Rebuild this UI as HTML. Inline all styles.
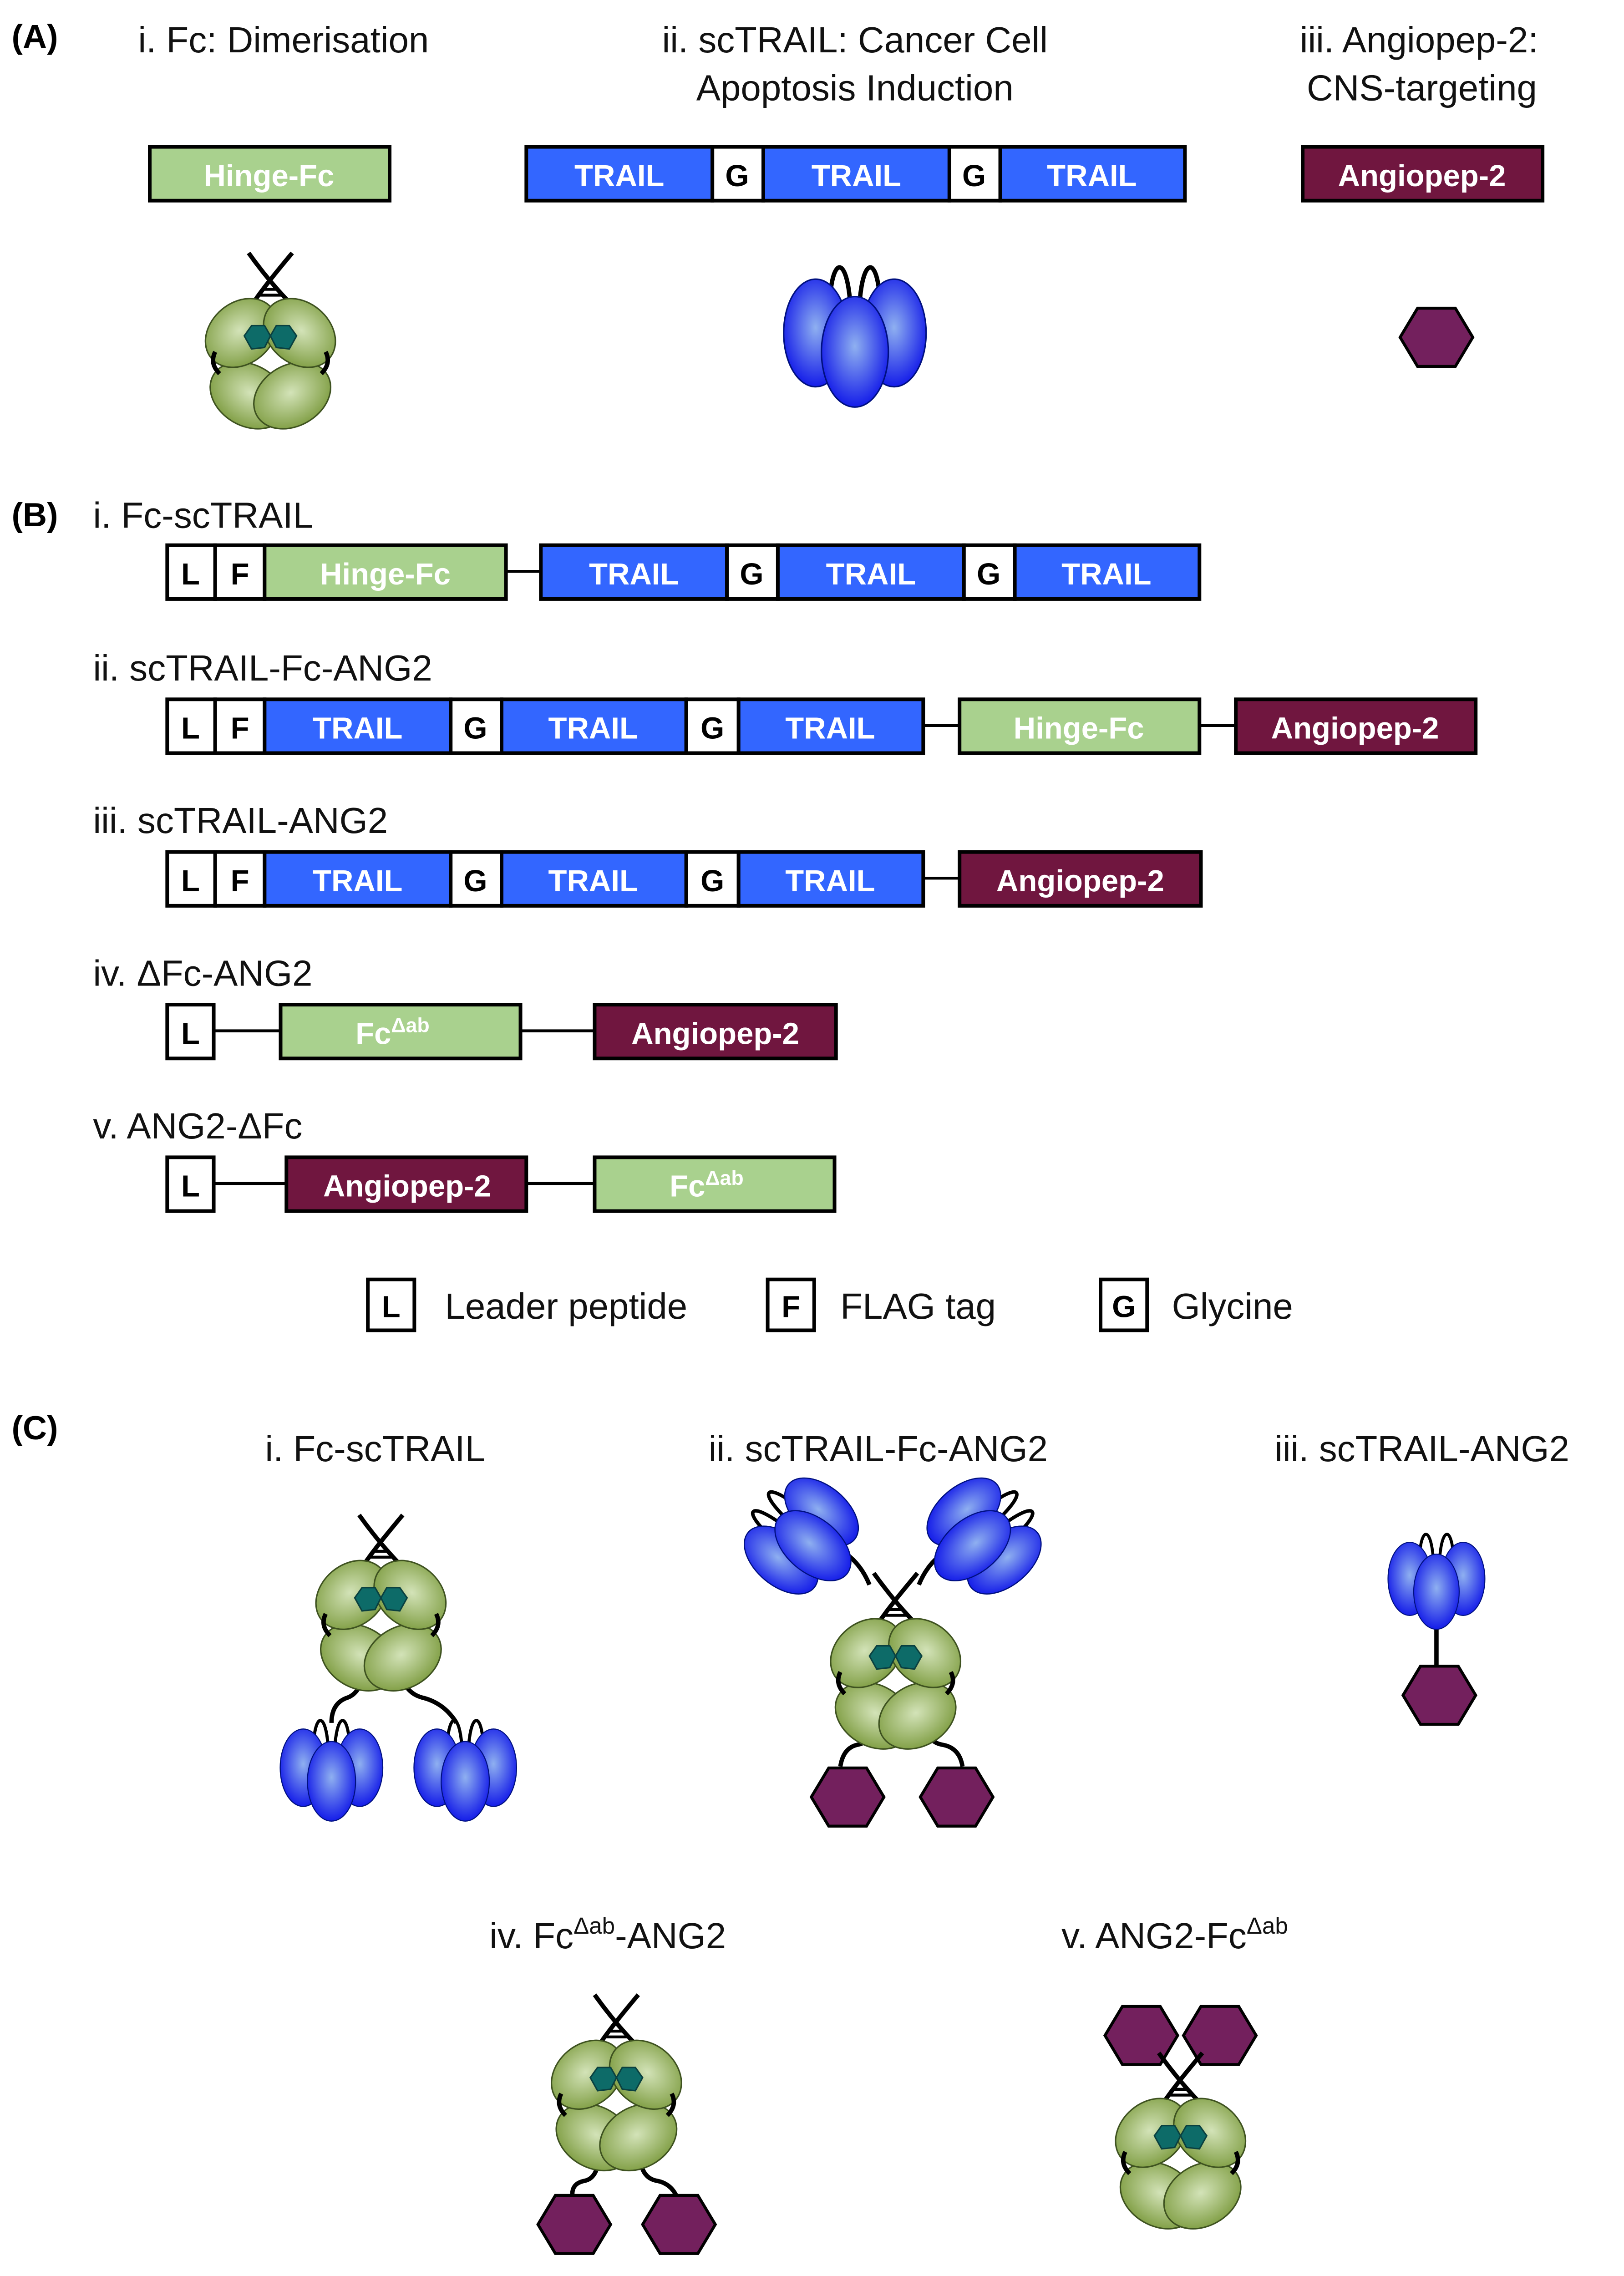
<!DOCTYPE html>
<html><head><meta charset="utf-8"><style>
html,body{margin:0;padding:0;background:#fff;width:3568px;height:5104px;overflow:hidden;}
svg{display:block;}
text{font-family:"Liberation Sans",Arial,sans-serif;}
.t{font-size:25px;fill:#111;}
.b{font-size:21px;font-weight:bold;fill:#fff;text-anchor:middle;}
.k{font-size:21px;font-weight:bold;fill:#000;text-anchor:middle;}
.lb{font-size:23px;font-weight:bold;fill:#000;}
</style></head><body>
<svg width="3568" height="5104" viewBox="0 0 1117 1598" preserveAspectRatio="none" xmlns="http://www.w3.org/2000/svg">
<defs>
<radialGradient id="gg" cx="50%" cy="45%" r="60%"><stop offset="0" stop-color="#d3e3b8"/><stop offset="1" stop-color="#7b9a3d"/></radialGradient>
<radialGradient id="bg" cx="50%" cy="45%" r="60%"><stop offset="0" stop-color="#8fb0f0"/><stop offset="1" stop-color="#0a10e8"/></radialGradient>
<g id="fc">
 <path d="M-15,-60 C-5,-46 5,-34 17,-22" stroke="#000" stroke-width="3" fill="none"/>
 <path d="M15,-60 C5,-48 -5,-36 -13,-24" stroke="#000" stroke-width="3" fill="none"/>
 <line x1="-6" y1="-35" x2="6" y2="-35" stroke="#000" stroke-width="2"/>
 <line x1="-8" y1="-31" x2="8" y2="-31" stroke="#000" stroke-width="2"/>
 <ellipse cx="-15" cy="38" rx="28" ry="21" transform="rotate(30 -15 38)" fill="url(#gg)" stroke="#3e5220" stroke-width="1"/>
 <ellipse cx="15" cy="38" rx="28" ry="21" transform="rotate(-30 15 38)" fill="url(#gg)" stroke="#3e5220" stroke-width="1"/>
 <ellipse cx="-20" cy="-5" rx="27" ry="21" transform="rotate(-40 -20 -5)" fill="url(#gg)" stroke="#3e5220" stroke-width="1"/>
 <ellipse cx="20" cy="-5" rx="27" ry="21" transform="rotate(40 20 -5)" fill="url(#gg)" stroke="#3e5220" stroke-width="1"/>
 <polygon points="-18,-3 -13,-10 -4,-10 0,-3 -4,5 -13,6" fill="#0d6b68" stroke="#0a4040" stroke-width="1"/>
 <polygon points="18,-3 13,-10 4,-10 0,-3 4,5 13,6" fill="#0d6b68" stroke="#0a4040" stroke-width="1"/>
 <path d="M-38,8 Q-42,16 -35,23" stroke="#000" stroke-width="3" fill="none"/>
 <path d="M38,8 Q42,16 35,23" stroke="#000" stroke-width="3" fill="none"/>
</g>
<g id="tr">
 <path d="M-17,-28 C-15,-56 -5,-56 -3,-20" stroke="#000" stroke-width="3" fill="none"/>
 <path d="M3,-20 C5,-56 15,-56 17,-28" stroke="#000" stroke-width="3" fill="none"/>
 <ellipse cx="-27" cy="-3" rx="22" ry="37" fill="url(#bg)" stroke="#001080" stroke-width="1"/>
 <ellipse cx="27" cy="-3" rx="22" ry="37" fill="url(#bg)" stroke="#001080" stroke-width="1"/>
 <ellipse cx="0" cy="10" rx="23" ry="38" fill="url(#bg)" stroke="#001080" stroke-width="1"/>
</g>
<polygon id="hx" points="-25,0 -13,-20 13,-20 25,0 13,20 -13,20" fill="#73205d" stroke="#000" stroke-width="2"/>
</defs>

<text x="8" y="33" class="lb">(A)</text>
<text x="195" y="36" class="t" text-anchor="middle">i. Fc: Dimerisation</text>
<text x="588" y="36" class="t" text-anchor="middle">ii. scTRAIL: Cancer Cell</text>
<text x="588" y="69" class="t" text-anchor="middle">Apoptosis Induction</text>
<text x="976" y="36" class="t" text-anchor="middle">iii. Angiopep-2:</text>
<text x="978" y="69" class="t" text-anchor="middle">CNS-targeting</text>

<g stroke="#000" stroke-width="2.5">
<rect x="103" y="101" width="165" height="37" fill="#a9d18e"/>
<rect x="362" y="101" width="128" height="37" fill="#3366ff"/>
<rect x="490" y="101" width="35" height="37" fill="#fff"/>
<rect x="525" y="101" width="128" height="37" fill="#3366ff"/>
<rect x="653" y="101" width="35" height="37" fill="#fff"/>
<rect x="688" y="101" width="127" height="37" fill="#3366ff"/>
<rect x="896" y="101" width="165" height="37" fill="#70163f"/>
</g>
<text x="185" y="128" class="b">Hinge-Fc</text>
<text x="426" y="128" class="b">TRAIL</text><text x="507" y="128" class="k">G</text>
<text x="589" y="128" class="b">TRAIL</text><text x="670" y="128" class="k">G</text>
<text x="751" y="128" class="b">TRAIL</text>
<text x="978" y="128" class="b">Angiopep-2</text>

<use href="#fc" x="186" y="234"/>
<use href="#tr" x="588" y="232"/>
<use href="#hx" x="988" y="232"/>

<text x="8" y="362" class="lb">(B)</text>
<g class="t">
<text x="64" y="363">i. Fc-scTRAIL</text>
<text x="64" y="468">ii. scTRAIL-Fc-ANG2</text>
<text x="64" y="573">iii. scTRAIL-ANG2</text>
<text x="64" y="678">iv. ΔFc-ANG2</text>
<text x="64" y="783">v. ANG2-ΔFc</text>
</g>
<g stroke="#000" stroke-width="2">
<line x1="348" y1="393" x2="372" y2="393"/>
<line x1="635" y1="499" x2="660" y2="499"/>
<line x1="825" y1="499" x2="850" y2="499"/>
<line x1="635" y1="604" x2="660" y2="604"/>
<line x1="147" y1="709" x2="193" y2="709"/>
<line x1="358" y1="709" x2="409" y2="709"/>
<line x1="147" y1="814" x2="197" y2="814"/>
<line x1="362" y1="814" x2="409" y2="814"/>
</g>
<g stroke="#000" stroke-width="2.5">
<rect x="115" y="375" width="33" height="37" fill="#fff"/>
<rect x="148" y="375" width="34" height="37" fill="#fff"/>
<rect x="182" y="375" width="166" height="37" fill="#a9d18e"/>
<rect x="372" y="375" width="128" height="37" fill="#3366ff"/>
<rect x="500" y="375" width="35" height="37" fill="#fff"/>
<rect x="535" y="375" width="128" height="37" fill="#3366ff"/>
<rect x="663" y="375" width="35" height="37" fill="#fff"/>
<rect x="698" y="375" width="127" height="37" fill="#3366ff"/>
<rect x="115" y="481" width="33" height="37" fill="#fff"/>
<rect x="148" y="481" width="34" height="37" fill="#fff"/>
<rect x="182" y="481" width="128" height="37" fill="#3366ff"/>
<rect x="310" y="481" width="35" height="37" fill="#fff"/>
<rect x="345" y="481" width="127" height="37" fill="#3366ff"/>
<rect x="472" y="481" width="36" height="37" fill="#fff"/>
<rect x="508" y="481" width="127" height="37" fill="#3366ff"/>
<rect x="660" y="481" width="165" height="37" fill="#a9d18e"/>
<rect x="850" y="481" width="165" height="37" fill="#70163f"/>
<rect x="115" y="586" width="33" height="37" fill="#fff"/>
<rect x="148" y="586" width="34" height="37" fill="#fff"/>
<rect x="182" y="586" width="128" height="37" fill="#3366ff"/>
<rect x="310" y="586" width="35" height="37" fill="#fff"/>
<rect x="345" y="586" width="127" height="37" fill="#3366ff"/>
<rect x="472" y="586" width="36" height="37" fill="#fff"/>
<rect x="508" y="586" width="127" height="37" fill="#3366ff"/>
<rect x="660" y="586" width="166" height="37" fill="#70163f"/>
<rect x="115" y="691" width="32" height="37" fill="#fff"/>
<rect x="193" y="691" width="165" height="37" fill="#a9d18e"/>
<rect x="409" y="691" width="166" height="37" fill="#70163f"/>
<rect x="115" y="796" width="32" height="37" fill="#fff"/>
<rect x="197" y="796" width="165" height="37" fill="#70163f"/>
<rect x="409" y="796" width="165" height="37" fill="#a9d18e"/>
<rect x="253" y="880" width="32" height="35" fill="#fff"/>
<rect x="528" y="880" width="32" height="35" fill="#fff"/>
<rect x="757" y="880" width="32" height="35" fill="#fff"/>
</g>
<text x="131" y="402" class="k">L</text><text x="165" y="402" class="k">F</text>
<text x="265" y="402" class="b">Hinge-Fc</text>
<text x="436" y="402" class="b">TRAIL</text><text x="517" y="402" class="k">G</text>
<text x="599" y="402" class="b">TRAIL</text><text x="680" y="402" class="k">G</text>
<text x="761" y="402" class="b">TRAIL</text>

<text x="131" y="508" class="k">L</text><text x="165" y="508" class="k">F</text>
<text x="246" y="508" class="b">TRAIL</text><text x="327" y="508" class="k">G</text>
<text x="408" y="508" class="b">TRAIL</text><text x="490" y="508" class="k">G</text>
<text x="571" y="508" class="b">TRAIL</text>
<text x="742" y="508" class="b">Hinge-Fc</text>
<text x="932" y="508" class="b">Angiopep-2</text>

<text x="131" y="613" class="k">L</text><text x="165" y="613" class="k">F</text>
<text x="246" y="613" class="b">TRAIL</text><text x="327" y="613" class="k">G</text>
<text x="408" y="613" class="b">TRAIL</text><text x="490" y="613" class="k">G</text>
<text x="571" y="613" class="b">TRAIL</text>
<text x="743" y="613" class="b">Angiopep-2</text>

<text x="131" y="718" class="k">L</text>
<text x="270" y="718" class="b">Fc<tspan font-size="14" dy="-8">Δab</tspan></text>
<text x="492" y="718" class="b">Angiopep-2</text>

<text x="131" y="823" class="k">L</text>
<text x="280" y="823" class="b">Angiopep-2</text>
<text x="486" y="823" class="b">Fc<tspan font-size="14" dy="-8">Δab</tspan></text>

<text x="269" y="906" class="k">L</text><text x="306" y="907" class="t">Leader peptide</text>
<text x="544" y="906" class="k">F</text><text x="578" y="907" class="t">FLAG tag</text>
<text x="773" y="906" class="k">G</text><text x="806" y="907" class="t">Glycine</text>

<text x="8" y="990" class="lb">(C)</text>
<g class="t" text-anchor="middle">
<text x="258" y="1005">i. Fc-scTRAIL</text>
<text x="604" y="1005">ii. scTRAIL-Fc-ANG2</text>
<text x="978" y="1005">iii. scTRAIL-ANG2</text>
<text x="418" y="1340">iv. Fc<tspan font-size="16" dy="-10">Δab</tspan><tspan dy="10">-ANG2</tspan></text>
<text x="808" y="1340">v. ANG2-Fc<tspan font-size="16" dy="-10">Δab</tspan></text>
</g>

<g stroke="#000" stroke-width="3" fill="none">
<path d="M250,1150 Q248,1165 238,1168 Q228,1172 228,1185"/>
<path d="M276,1150 Q278,1165 292,1168 Q306,1172 314,1185"/>
</g>
<use href="#fc" x="262" y="1102"/>
<g transform="translate(228,1218) scale(0.72)"><use href="#tr"/></g>
<g transform="translate(320,1218) scale(0.72)"><use href="#tr"/></g>

<g stroke="#000" stroke-width="3" fill="none">
<path d="M598,1090 Q590,1070 570,1062"/>
<path d="M632,1090 Q640,1070 660,1062"/>
<path d="M601,1180 Q601,1198 590,1200 Q580,1202 578,1215"/>
<path d="M636,1180 Q636,1198 648,1200 Q660,1202 662,1215"/>
</g>
<g transform="translate(553,1058) rotate(-50) scale(0.8)"><use href="#tr"/></g>
<g transform="translate(675,1058) rotate(50) scale(0.8)"><use href="#tr"/></g>
<use href="#fc" x="616" y="1142"/>
<use href="#hx" x="583" y="1236"/>
<use href="#hx" x="658" y="1236"/>

<line x1="988" y1="1120" x2="988" y2="1148" stroke="#000" stroke-width="3"/>
<g transform="translate(988,1088) scale(0.68)"><use href="#tr"/></g>
<use href="#hx" x="990" y="1166"/>

<g stroke="#000" stroke-width="3" fill="none">
<path d="M412,1480 Q412,1498 402,1500 Q392,1502 394,1512"/>
<path d="M440,1480 Q440,1498 452,1500 Q462,1502 466,1512"/>
</g>
<use href="#fc" x="424" y="1432"/>
<use href="#hx" x="395" y="1530"/>
<use href="#hx" x="467" y="1530"/>

<use href="#hx" x="785" y="1400"/>
<use href="#hx" x="839" y="1400"/>
<use href="#fc" x="812" y="1472"/>
</svg>
</body></html>
